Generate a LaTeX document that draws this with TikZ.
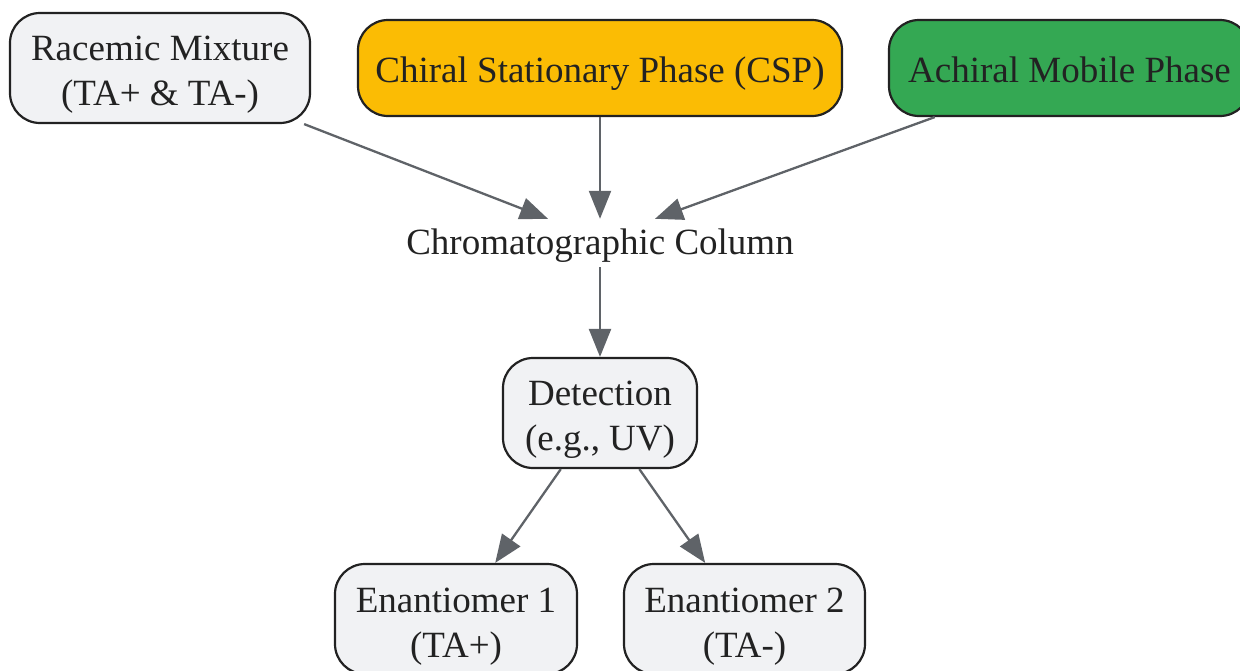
\documentclass[tikz,border=0pt]{standalone}
\usepackage{fontspec}
\setmainfont{Liberation Serif}
\usetikzlibrary{arrows.meta}
\definecolor{nodefill}{HTML}{F1F2F4}
\definecolor{nodeline}{HTML}{222222}
\definecolor{cspfill}{HTML}{FBBC04}
\definecolor{achfill}{HTML}{34A853}
\definecolor{edgecol}{HTML}{5F6368}
\definecolor{txtcol}{HTML}{222222}
\tikzset{
  box/.style={draw=nodeline, line width=2.2pt, fill=nodefill, rounded corners=30pt,
    inner sep=0pt},
  txt/.style={inner sep=0pt, align=center, text=txtcol, font=\fontsize{37}{45}\selectfont},
  conn/.style={draw=edgecol, line width=2.3pt, -{Triangle[length=28pt,width=22pt]}}
}
\begin{document}
\begin{tikzpicture}[x=1pt,y=-1pt]
\useasboundingbox (0,0) rectangle (1240,670);
\node[box, minimum width=300pt, minimum height=110pt,
  label={[txt,yshift=-7pt]center:Racemic Mixture\\(TA+ \& TA-)}] (rac) at (160,68) {};
\node[box, fill=cspfill, minimum width=484pt, minimum height=96pt,
  label={[txt,yshift=-6pt]center:Chiral Stationary Phase (CSP)}] (csp) at (600,68) {};
\node[box, fill=achfill, minimum width=361pt, minimum height=96pt,
  label={[txt,yshift=-2pt]center:Achiral Mobile Phase}] (ach) at (1069.5,68) {};
\node[minimum width=400pt, minimum height=48pt, inner sep=0pt,
  label={[txt,yshift=-3pt]center:Chromatographic Column}] (col) at (600,243) {};
\node[box, minimum width=194pt, minimum height=110pt,
  label={[txt,yshift=-7pt]center:Detection\\(e.g., UV)}] (det) at (600,413) {};
\node[box, minimum width=242pt, minimum height=110pt,
  label={[txt,yshift=-8pt]center:Enantiomer 1\\(TA+)}] (en1) at (456,619) {};
\node[box, minimum width=241pt, minimum height=110pt,
  label={[txt,yshift=-8pt]center:Enantiomer 2\\(TA-)}] (en2) at (744.5,619) {};
\draw[conn] (rac) -- ([xshift=-52pt]col.north);
\draw[conn] (csp) -- (col);
\draw[conn] (ach) -- ([xshift=55pt]col.north);
\draw[conn] (col) -- (det);
\draw[conn] (det) -- (en1);
\draw[conn] (det) -- (en2);
\end{tikzpicture}
\end{document}
